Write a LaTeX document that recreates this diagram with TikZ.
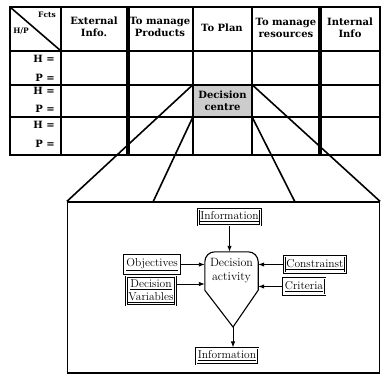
\documentclass[tikz,border=0pt]{standalone}
\usepackage{fontspec}
\newfontfamily\tabfont{DejaVu Serif}
\usetikzlibrary{arrows.meta}

\begin{document}
\begin{tikzpicture}[x=1pt,y=-1pt,
    hd/.style={font=\tabfont\bfseries\fontsize{10}{12.5}\selectfont, align=center, inner sep=1pt},
    lbl/.style={draw, double, double distance=0.5pt, line width=0.9pt, inner xsep=2pt, inner ysep=3pt, font=\fontsize{11.5}{12.5}\selectfont, align=center},
    arr/.style={-{Latex[length=6pt,width=4.5pt]}, line width=0.9pt}]
    \useasboundingbox (0,0) rectangle (382,374);

    % decision centre cell
    \node[fill=gray!40, minimum width=59pt, minimum height=32pt, inner sep=0, hd] (dc) at (222.5,101) {Decision\\centre};

    % table
    \draw[line width=1.2pt] (61,7) -- (61,155) (193,7) -- (193,155) (252,7) -- (252,155);
    \draw[line width=1.2pt] (10,51) -- (380,51) (10,85) -- (380,85) (10,117) -- (380,117);
    \draw[line width=4pt] (128,7) -- (128,155) (320,7) -- (320,155);
    \draw[line width=1.6pt] (10,7) -- (61,51);
    \draw[line width=2.6pt] (10,7) rectangle (380,155);

    \node[hd, font=\tabfont\bfseries\fontsize{7.5}{8}\selectfont] (fcts) at (47,15) {Fcts};
    \node[hd, font=\tabfont\bfseries\fontsize{7.5}{8}\selectfont] (hp) at (21,31) {H/P};
    \node[hd] (ext) at (94,27) {External\\Info.};
    \node[hd] (prod) at (160,27) {To manage\\Products};
    \node[hd] (plan) at (222,28) {To Plan};
    \node[hd] (res) at (286,28) {To manage\\resources};
    \node[hd] (int) at (350,28) {Internal\\Info};

    \node[hd, anchor=east] (h1) at (56,59) {H =};
    \node[hd, anchor=east] (p1) at (56,78) {P =};
    \node[hd, anchor=east] (h2) at (56,91) {H =};
    \node[hd, anchor=east] (p2) at (56,109) {P =};
    \node[hd, anchor=east] (h3) at (56,125) {H =};
    \node[hd, anchor=east] (p3) at (56,144) {P =};

    % zoomed box
    \node[draw, line width=1.2pt, minimum width=312pt, minimum height=171pt, inner sep=0] (zoom) at (223.5,287.5) {};
    \coordinate (zl) at (153,202);
    \coordinate (zr) at (295,202);
    \draw[line width=1.6pt] (dc.north west) -- (zoom.north west);
    \draw[line width=1.6pt] (dc.south west) -- (zl);
    \draw[line width=1.6pt] (dc.south east) -- (zr);
    \draw[line width=1.6pt] (dc.north east) -- (zoom.north east);

    % decision activity
    \node[minimum width=53pt, minimum height=38pt, inner sep=0, align=center, font=\fontsize{12}{14}\selectfont] (act) at (231.5,271) {Decision\\activity};
    \coordinate (tip) at (233,327);
    \draw[line width=1.1pt] (act.south west) [rounded corners=10pt] -- (act.north west) -- (act.north east) [sharp corners] -- (act.south east) -- (tip) -- cycle;

    \node[lbl] (infoin) at (229.5,217) {\underline{Information}};
    \node[lbl] (infoout) at (227,356) {\underline{Information}};
    \node[lbl] (obj) at (152,264.5) {\underline{Objectives}};
    \node[lbl] (var) at (151,291) {\underline{Decision}\\\underline{Variables}};
    \node[lbl] (cons) at (315,264.5) {\underline{Constrainst}};
    \node[lbl] (crit) at (304,286.5) {\underline{Criteria}};

    \draw[arr] (infoin) -- (act.north -| infoin);
    \draw[arr] (tip) -- (infoout.north -| tip);
    \draw[arr] (obj) -- (obj -| act.west);
    \draw[arr] (var.east |- 0,284) -- (act.west |- 0,284);
    \draw[arr] (cons) -- (cons -| act.east);
    \draw[arr] (crit) -- (crit -| act.east);
\end{tikzpicture}
\end{document}
